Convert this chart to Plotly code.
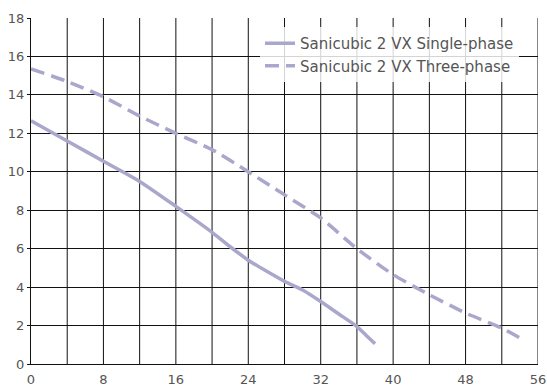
import plotly.graph_objects as go

single_x = [0, 4, 8, 12, 16, 20, 22, 24, 28, 30, 32, 34, 36, 37, 38]
single_y = [12.65, 11.6, 10.55, 9.5, 8.2, 6.85, 6.1, 5.4, 4.3, 3.85, 3.25, 2.6, 1.95, 1.5, 1.05]

three_x = [0, 4, 8, 12, 16, 20, 24, 28, 32, 36, 40, 44, 48, 52, 54]
three_y = [15.35, 14.7, 13.9, 12.9, 12.0, 11.15, 10.0, 8.8, 7.6, 6.0, 4.65, 3.6, 2.65, 1.87, 1.35]

x_ticks = [0, 8, 16, 24, 32, 40, 48, 56]
y_ticks = [0, 2, 4, 6, 8, 10, 12, 14, 16, 18]

line_color = "#aaa7cc"
font_family = "DejaVu Sans, sans-serif"

fig = go.Figure()
fig.add_trace(go.Scatter(x=single_x, y=single_y, mode="lines", name="Sanicubic 2 VX Single-phase",
                         line=dict(color=line_color, width=3.5, shape="spline", smoothing=0.6)))
fig.add_trace(go.Scatter(x=three_x, y=three_y, mode="lines", name="Sanicubic 2 VX Three-phase",
                         line=dict(color=line_color, width=3.5, dash="14px,7px", shape="spline", smoothing=0.6)))

# vertical grid every 4
for v in range(4, 57, 4):
    fig.add_shape(type="line", x0=v, x1=v, y0=0, y1=18, xref="x", yref="y",
                  line=dict(color="#111", width=1), layer="below")

fig.update_layout(
    width=547, height=388,
    margin=dict(l=31, r=9, t=18, b=24, autoexpand=False),
    paper_bgcolor="white", plot_bgcolor="white",
    font=dict(family=font_family, size=13, color="#555"),
    showlegend=True,
    legend=dict(x=0.4517, y=0.974, xanchor="left", yanchor="top",
                bgcolor="rgba(255,255,255,0.82)", font=dict(size=15, color="#555"),
                tracegroupgap=0, itemwidth=30),
    xaxis=dict(range=[0, 56], tickvals=x_ticks, showgrid=False, zeroline=False,
               showline=True, linecolor="#111", linewidth=1, ticks="outside", ticklen=3,
               tickcolor="rgba(0,0,0,0)", automargin=False,
               tickfont=dict(size=13, color="#555"), fixedrange=True),
    yaxis=dict(range=[0, 18], tickvals=y_ticks, showgrid=True, gridcolor="#111", gridwidth=1,
               zeroline=False, showline=True, linecolor="#111", linewidth=1,
               ticks="outside", ticklen=3, tickcolor="#111", automargin=False,
               tickfont=dict(size=13, color="#555"), fixedrange=True),
)

fig.write_html("out.html", config={"displayModeBar": False},
               post_script="document.body.style.margin='0';document.body.style.padding='0';document.body.style.overflow='hidden';")
